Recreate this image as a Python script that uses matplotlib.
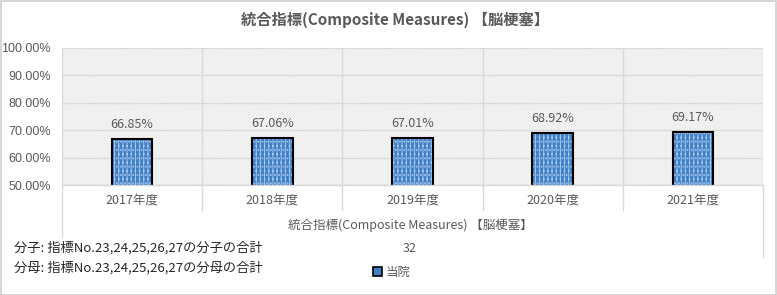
import matplotlib.pyplot as plt
import matplotlib.patches as mpatches
from matplotlib.lines import Line2D
import numpy as np

plt.rcParams['font.family'] = ['Noto Sans CJK JP', 'DejaVu Sans']

years = ['2017年度', '2018年度', '2019年度', '2020年度', '2021年度']
rates = [66.85, 67.06, 67.01, 68.92, 69.17]
yticks = [50, 60, 70, 80, 90, 100]

title = '統合指標(Composite Measures) 【脳梗塞】'
axis_title = '統合指標(Composite Measures) 【脳梗塞】'
sub_label = '32'
notes = ['分子: 指標No.23,24,25,26,27の分子の合計',
         '分母: 指標No.23,24,25,26,27の分母の合計']
legend_label = '当院'

W, H = 777, 295
txt = '#595959'
grid = '#d9d9d9'
bar_c = '#3f7fc6'

fig = plt.figure(figsize=(W / 100, H / 100), dpi=100)
fig.patch.set_facecolor('white')

# outer border
fig.add_artist(mpatches.Rectangle((0.5 / W, 0.5 / H), 1 - 1.5 / W, 1 - 1.5 / H,
                                  transform=fig.transFigure, fill=False,
                                  edgecolor='#d0d0d0', lw=1.2))

L, R, T, B = 62, 763, 48, 185
ax = fig.add_axes([L / W, 1 - B / H, (R - L) / W, (B - T) / H])

x = np.arange(len(years))
ax.set_xlim(-0.5, len(years) - 0.5)
ax.set_ylim(50, 100)

# hatched background
plt.rcParams['hatch.linewidth'] = 0.7
ax.add_patch(mpatches.Rectangle((0, 0), 1, 1, transform=ax.transAxes,
                                facecolor='white', edgecolor='#e2e2e2',
                                hatch='\\' * 12, lw=0, zorder=0))

for yv in yticks:
    ax.axhline(yv, color=grid, lw=1, zorder=1)
for k in range(len(years) + 1):
    ax.axvline(k - 0.5, color=grid, lw=1, zorder=1)

bw = 0.29
ax.bar(x, rates, width=bw, bottom=0, color=bar_c, edgecolor='#a8c8ee',
       hatch='||||....', lw=0, zorder=2)
ax.bar(x, rates, width=bw, bottom=0, fill=False, edgecolor='black',
       lw=1.5, zorder=3)

for xi, v in zip(x, rates):
    ax.text(xi, v + 3, f'{v:.2f}%', ha='center', va='bottom',
            fontsize=9, color=txt, zorder=4)

ax.set_yticks(yticks)
ax.set_yticklabels([f'{v:.2f}%' for v in yticks], fontsize=9, color=txt,
                   family=['Liberation Sans', 'DejaVu Sans'])
ax.set_xticks([])
ax.tick_params(axis='y', length=0, pad=8)
for s in ax.spines.values():
    s.set_visible(False)

# multi-level category axis below
def fx(px):
    return px / W

def fy(py):
    return 1 - py / H

cw = (R - L) / len(years)
for k in range(len(years) + 1):
    xp = L + k * cw
    if k == 0:
        y2 = 237
    elif k == len(years):
        y2 = 257
    else:
        y2 = 210
    fig.add_artist(Line2D([fx(xp), fx(xp)], [fy(B), fy(y2)], color=grid,
                          lw=1, transform=fig.transFigure))
fig.add_artist(Line2D([fx(L), fx(R)], [fy(B), fy(B)], color=grid, lw=1,
                      transform=fig.transFigure))

for k, lab in enumerate(years):
    fig.text(fx(L + (k + 0.5) * cw), fy(200), lab, ha='center', va='center',
             fontsize=9, color=txt)

fig.text(fx(410), fy(225), axis_title, ha='center', va='center',
         fontsize=9, color=txt)
fig.text(fx(410), fy(249), sub_label, ha='center', va='center',
         fontsize=9, color=txt)

fig.text(fx(395), fy(20), title, ha='center', va='center', fontsize=11,
         fontweight='bold', color=txt)

for i, n in enumerate(notes):
    fig.text(fx(14), fy(248 + i * 20), n, ha='left', va='center',
             fontsize=9.5, color='#262626')

handle = mpatches.Patch(facecolor=bar_c, edgecolor='black', lw=1.2)
fig.legend([handle], [legend_label], loc='center', bbox_to_anchor=(fx(392), fy(272)),
           frameon=False, fontsize=9, handlelength=0.7, handleheight=0.7,
           handletextpad=0.3, labelcolor=txt)

fig.savefig('out.png', dpi=100)
